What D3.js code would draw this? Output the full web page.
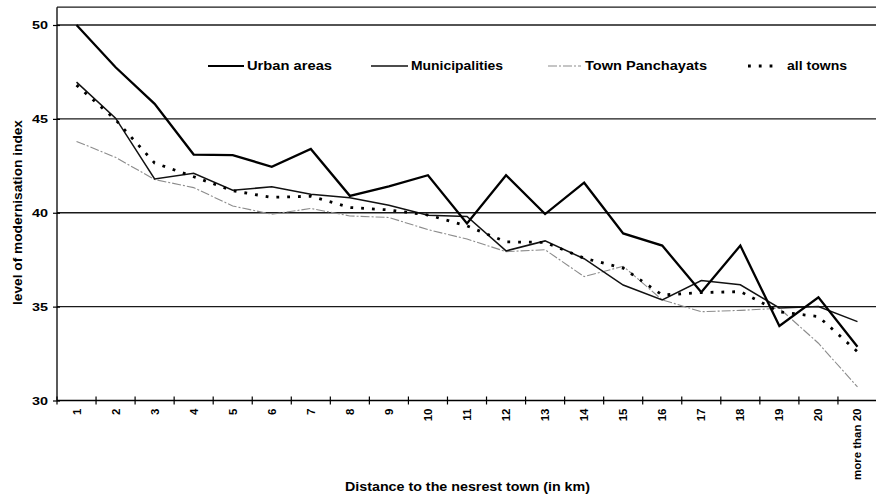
<!DOCTYPE html>
<html>
<head>
<meta charset="utf-8">
<script src="https://cdn.jsdelivr.net/npm/d3@7"></script>
<style>
  html, body { margin: 0; padding: 0; background: #fff; }
  svg { display: block; }
  text { font-family: "Liberation Sans", Arial, sans-serif; font-weight: bold; fill: #000; }
</style>
</head>
<body>
<svg id="chart" width="876" height="494"></svg>
<script>
const categories = ["1","2","3","4","5","6","7","8","9","10","11","12","13","14","15","16","17","18","19","20","more than 20"];
const urbanAreas = [50.0, 47.75, 45.8, 43.1, 43.07, 42.45, 43.4, 40.9, 41.4, 42.0, 39.43, 42.0, 39.93, 41.6, 38.9, 38.25, 35.77, 38.25, 33.97, 35.5, 32.86];
const municipalities = [46.96, 45.04, 41.8, 42.1, 41.2, 41.38, 40.98, 40.8, 40.4, 39.87, 39.8, 37.97, 38.5, 37.55, 36.15, 35.36, 36.39, 36.16, 34.93, 35.0, 34.2];
const townPanchayats = [43.8, 42.95, 41.77, 41.34, 40.36, 39.92, 40.23, 39.83, 39.75, 39.1, 38.6, 37.93, 38.03, 36.6, 37.15, 35.36, 34.73, 34.8, 34.91, 33.05, 30.72];
const allTowns = [46.8, 44.95, 42.65, 41.92, 41.17, 40.82, 40.88, 40.28, 40.15, 39.88, 39.3, 38.45, 38.42, 37.58, 37.05, 35.62, 35.75, 35.8, 34.72, 34.47, 32.6];
const seriesNames = ["Urban areas", "Municipalities", "Town Panchayats", "all towns"];
const yTickValues = [30, 35, 40, 45, 50];
const xTitle = "Distance to the nesrest town (in km)";
const yTitle = "level of modernisation index";

const svg = d3.select("#chart");
const left = 57, right = 877, bottom = 400.5, top50 = 25;

const x = d3.scaleBand().domain(categories).range([left, right]).padding(0);
const y = d3.scaleLinear().domain([30, 50]).range([bottom, top50]);
const frameTop = y(50.95);

// gridlines
svg.append("g").selectAll("line")
  .data(yTickValues.filter(v => v > 30))
  .join("line")
  .attr("x1", left).attr("x2", 876)
  .attr("y1", d => y(d)).attr("y2", d => y(d))
  .attr("stroke", "#1a1a1a").attr("stroke-width", 1.3);

// top frame line
svg.append("line").attr("x1", left).attr("x2", 876).attr("y1", frameTop).attr("y2", frameTop)
  .attr("stroke", "#1a1a1a").attr("stroke-width", 1.2);

// y axis
const yAxis = svg.append("g").attr("transform", `translate(${left},0)`)
  .call(d3.axisLeft(y).tickValues(yTickValues).tickSize(4).tickPadding(8).tickFormat(d3.format("d")));
yAxis.select(".domain").remove();
yAxis.selectAll(".tick line").attr("x1", 3).attr("x2", -4).attr("stroke", "#000").attr("stroke-width", 1.2);
yAxis.selectAll(".tick text")
  .attr("font-size", 11).attr("font-family", "Liberation Sans, Arial, sans-serif").attr("font-weight", "bold")
  .attr("textLength", 16).attr("lengthAdjust", "spacingAndGlyphs").attr("x", -9);
svg.append("line").attr("x1", left).attr("x2", left).attr("y1", frameTop).attr("y2", bottom)
  .attr("stroke", "#000").attr("stroke-width", 1.3);

// x axis
svg.append("line").attr("x1", left).attr("x2", 876).attr("y1", bottom).attr("y2", bottom)
  .attr("stroke", "#000").attr("stroke-width", 1.3);
const boundaries = categories.map(c => x(c)).concat([x(categories[categories.length - 1]) + x.bandwidth()]);
svg.append("g").selectAll("line").data(boundaries).join("line")
  .attr("x1", d => d).attr("x2", d => d).attr("y1", bottom - 4).attr("y2", bottom + 4)
  .attr("stroke", "#000").attr("stroke-width", 1.2);

const xAxis = svg.append("g").attr("transform", `translate(0,${bottom})`)
  .call(d3.axisBottom(x).tickSize(0).tickPadding(0));
xAxis.select(".domain").remove();
xAxis.selectAll(".tick text")
  .attr("font-size", 11.5).attr("font-family", "Liberation Sans, Arial, sans-serif").attr("font-weight", "bold")
  .attr("text-anchor", "end").attr("dy", null)
  .attr("transform", "translate(4,8) rotate(-90)")
  .attr("x", 0).attr("y", 0);

// series
const line = d3.line()
  .x((d, i) => x(categories[i]) + x.bandwidth() / 2)
  .y(d => y(d));

const styles = [
  { data: urbanAreas, stroke: "#000", width: 2.3, dash: null, cap: "butt" },
  { data: municipalities, stroke: "#111", width: 1.5, dash: null, cap: "butt" },
  { data: townPanchayats, stroke: "#8c8c8c", width: 1.1, dash: "9,2,2,2", cap: "butt" },
  { data: allTowns, stroke: "#000", width: 2.8, dash: "2.8,8", cap: "butt" }
];
[styles[2], styles[1], styles[3], styles[0]].forEach(s => {
  svg.append("path").datum(s.data)
    .attr("d", line).attr("fill", "none")
    .attr("stroke", s.stroke).attr("stroke-width", s.width)
    .attr("stroke-dasharray", s.dash).attr("stroke-linejoin", "miter")
    .attr("stroke-linecap", s.cap);
});

// legend
const legendY = 66;
const legendPos = [
  { x1: 208, x2: 244, tx: 247, tl: 85 },
  { x1: 371, x2: 408, tx: 411, tl: 92 },
  { x1: 548, x2: 581, tx: 585, tl: 122 },
  { x1: 748, x2: 779, tx: 787, tl: 60 }
];
seriesNames.forEach((name, i) => {
  const s = styles[i], p = legendPos[i];
  svg.append("line").attr("x1", p.x1).attr("x2", p.x2).attr("y1", legendY).attr("y2", legendY)
    .attr("stroke", s.stroke).attr("stroke-width", i === 0 ? 2.2 : s.width)
    .attr("stroke-dasharray", s.dash);
  svg.append("text").attr("x", p.tx).attr("y", legendY + 4.3)
    .attr("font-size", 12).attr("textLength", p.tl).attr("lengthAdjust", "spacingAndGlyphs")
    .text(name);
});

// axis titles
svg.append("text").attr("x", 345).attr("y", 491).attr("font-size", 12)
  .attr("textLength", 245).attr("lengthAdjust", "spacingAndGlyphs").text(xTitle);
svg.append("text").attr("transform", "translate(22,212.5) rotate(-90)")
  .attr("text-anchor", "middle").attr("font-size", 12.5)
  .attr("textLength", 185).attr("lengthAdjust", "spacingAndGlyphs").text(yTitle);
</script>
</body>
</html>
